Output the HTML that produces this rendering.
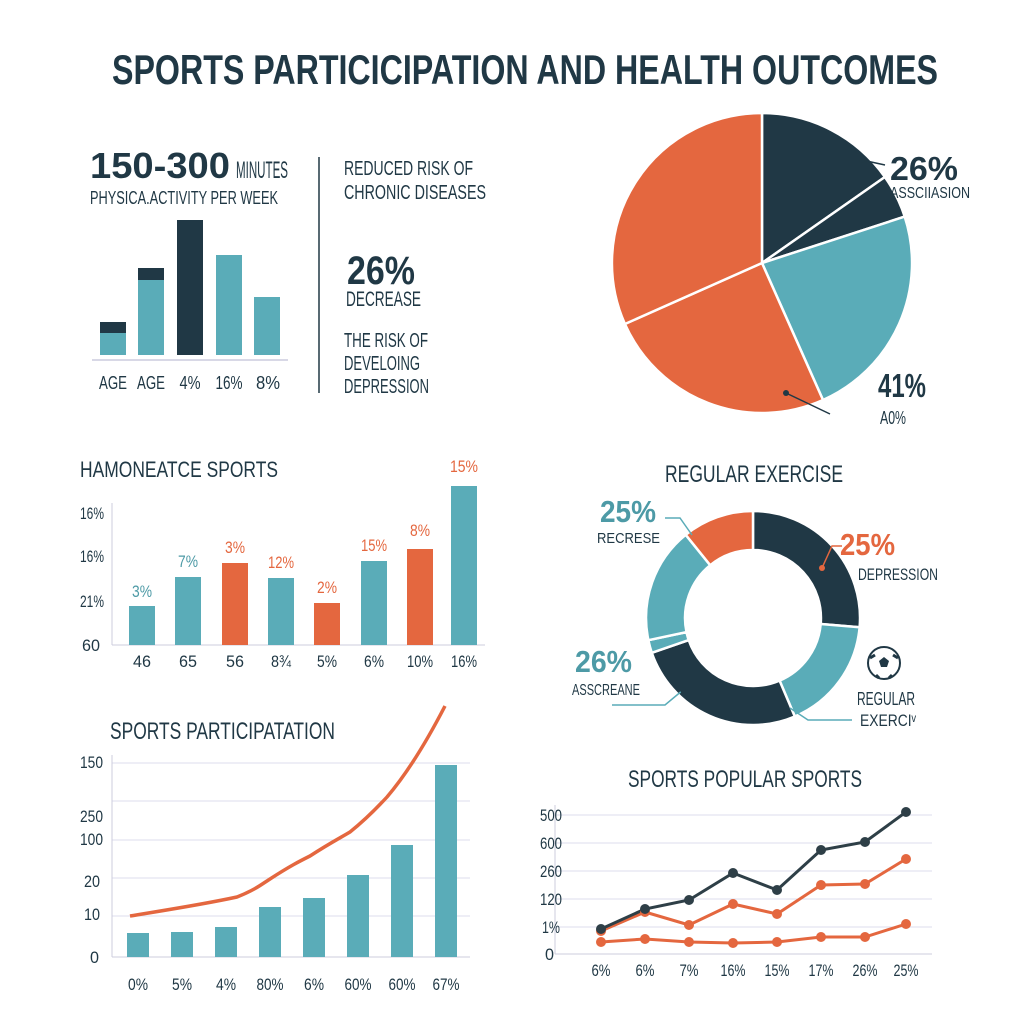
<!DOCTYPE html><html><head><style>body{margin:0;background:#fff}svg{display:block}text{font-family:"Liberation Sans Narrow","Liberation Sans",sans-serif;fill:#203845}</style></head><body>
<svg width="1024" height="1024" viewBox="0 0 1024 1024" xmlns="http://www.w3.org/2000/svg">
<rect width="1024" height="1024" fill="#fff"/>
<text x="525" y="84" font-size="42" font-weight="bold" text-anchor="middle" textLength="826" lengthAdjust="spacingAndGlyphs">SPORTS PARTICICIPATION AND HEALTH OUTCOMES</text>
<!-- top left -->
<text x="90" y="178" font-size="36" font-weight="bold" textLength="140" lengthAdjust="spacingAndGlyphs">150-300</text>
<text x="236" y="178" font-size="24" textLength="52" lengthAdjust="spacingAndGlyphs">MINUTES</text>
<text x="90" y="204" font-size="18" textLength="188" lengthAdjust="spacingAndGlyphs">PHYSICA.ACTIVITY PER WEEK</text>
<g fill="#5aacb8"><rect x="100" y="333" width="26" height="22"/><rect x="138" y="280" width="26" height="75"/><rect x="216" y="255" width="26" height="100"/><rect x="254" y="297" width="26" height="58"/></g>
<g fill="#203845"><rect x="100" y="322" width="26" height="11"/><rect x="138" y="268" width="26" height="12"/><rect x="177" y="220" width="26" height="135"/></g>
<line x1="92" y1="360" x2="288" y2="360" stroke="#ccd" stroke-width="1.5"/>
<g font-size="18" text-anchor="middle" lengthAdjust="spacingAndGlyphs"><text x="113" y="389" textLength="28" lengthAdjust="spacingAndGlyphs">AGE</text><text x="151" y="389" textLength="28" lengthAdjust="spacingAndGlyphs">AGE</text><text x="190" y="389" textLength="21" lengthAdjust="spacingAndGlyphs">4%</text><text x="229" y="389" textLength="27" lengthAdjust="spacingAndGlyphs">16%</text><text x="268" y="389" textLength="24" lengthAdjust="spacingAndGlyphs">8%</text></g>
<line x1="319" y1="157" x2="319" y2="393" stroke="#203845" stroke-width="1.5"/>
<g font-size="20"><text x="344" y="175" textLength="129" lengthAdjust="spacingAndGlyphs">REDUCED RISK OF</text><text x="344" y="199" textLength="142" lengthAdjust="spacingAndGlyphs">CHRONIC DISEASES</text></g>
<text x="347" y="284" font-size="40" font-weight="bold" textLength="68" lengthAdjust="spacingAndGlyphs">26%</text>
<text x="346" y="306" font-size="21" textLength="75" lengthAdjust="spacingAndGlyphs">DECREASE</text>
<g font-size="20"><text x="344" y="347" textLength="84" lengthAdjust="spacingAndGlyphs">THE RISK OF</text><text x="344" y="370" textLength="76" lengthAdjust="spacingAndGlyphs">DEVELOING</text><text x="344" y="393" textLength="85" lengthAdjust="spacingAndGlyphs">DEPRESSION</text></g>
<!-- pie -->
<g stroke="#fff" stroke-width="2.5">
<path d="M762,263 L762,113 A150,150 0 0 1 884.9,177 Z" fill="#203845"/>
<path d="M762,263 L884.9,177 A150,150 0 0 1 904.7,216.6 Z" fill="#203845"/>
<path d="M762,263 L904.7,216.6 A150,150 0 0 1 823,400 Z" fill="#5aacb8"/>
<path d="M762,263 L823,400 A150,150 0 0 1 624.9,324 Z" fill="#e4673f"/>
<path d="M762,263 L624.9,324 A150,150 0 0 1 762,113 Z" fill="#e4673f"/>
</g>
<line x1="862" y1="160" x2="885" y2="165" stroke="#203845" stroke-width="1.5"/><circle cx="862" cy="160" r="3" fill="#203845"/>
<text x="890" y="180" font-size="33" font-weight="bold" textLength="68" lengthAdjust="spacingAndGlyphs">26%</text>
<text x="890" y="179" font-size="16" dy="19" textLength="80" lengthAdjust="spacingAndGlyphs">ASSCIIASION</text>
<line x1="786" y1="393" x2="830" y2="414" stroke="#203845" stroke-width="1.5"/><circle cx="786" cy="393" r="3" fill="#203845"/>
<text x="878" y="397" font-size="33" font-weight="bold" textLength="48" lengthAdjust="spacingAndGlyphs">41%</text>
<text x="880" y="424" font-size="18" textLength="26" lengthAdjust="spacingAndGlyphs">A0%</text>
<!-- middle left -->
<text x="80" y="477" font-size="22" textLength="198" lengthAdjust="spacingAndGlyphs">HAMONEATCE SPORTS</text>
<g font-size="17"><text x="80" y="519" textLength="24" lengthAdjust="spacingAndGlyphs">16%</text><text x="80" y="562" textLength="24" lengthAdjust="spacingAndGlyphs">16%</text><text x="80" y="607" textLength="24" lengthAdjust="spacingAndGlyphs">21%</text><text x="82" y="651" textLength="18" lengthAdjust="spacingAndGlyphs">60</text></g>
<line x1="112" y1="503" x2="112" y2="645" stroke="#ccd"/><line x1="112" y1="645" x2="485" y2="645" stroke="#ccd"/>
<g fill="#5aacb8"><rect x="129" y="606" width="26" height="39"/><rect x="175" y="577" width="26" height="68"/><rect x="268" y="578" width="26" height="67"/><rect x="361" y="561" width="26" height="84"/><rect x="451" y="486" width="26" height="159"/></g>
<g fill="#e4673f"><rect x="222" y="563" width="26" height="82"/><rect x="314" y="603" width="26" height="42"/><rect x="407" y="549" width="26" height="96"/></g>
<g font-size="17" text-anchor="middle"><text x="142" y="597" style="fill:#4d9aa6" textLength="20" lengthAdjust="spacingAndGlyphs">3%</text><text x="188" y="567" style="fill:#4d9aa6" textLength="20" lengthAdjust="spacingAndGlyphs">7%</text><text x="235" y="553" style="fill:#e4673f" textLength="20" lengthAdjust="spacingAndGlyphs">3%</text><text x="281" y="568" style="fill:#e4673f" textLength="26" lengthAdjust="spacingAndGlyphs">12%</text><text x="327" y="593" style="fill:#e4673f" textLength="20" lengthAdjust="spacingAndGlyphs">2%</text><text x="374" y="551" style="fill:#e4673f" textLength="26" lengthAdjust="spacingAndGlyphs">15%</text><text x="420" y="536" style="fill:#e4673f" textLength="20" lengthAdjust="spacingAndGlyphs">8%</text><text x="464" y="472" style="fill:#e4673f" textLength="28" lengthAdjust="spacingAndGlyphs">15%</text></g>
<g font-size="17" text-anchor="middle"><text x="142" y="667" textLength="18" lengthAdjust="spacingAndGlyphs">46</text><text x="188" y="667" textLength="18" lengthAdjust="spacingAndGlyphs">65</text><text x="235" y="667" textLength="18" lengthAdjust="spacingAndGlyphs">56</text><text x="281" y="667" textLength="20" lengthAdjust="spacingAndGlyphs">8¾</text><text x="327" y="667" textLength="20" lengthAdjust="spacingAndGlyphs">5%</text><text x="374" y="667" textLength="20" lengthAdjust="spacingAndGlyphs">6%</text><text x="420" y="667" textLength="26" lengthAdjust="spacingAndGlyphs">10%</text><text x="464" y="667" textLength="26" lengthAdjust="spacingAndGlyphs">16%</text></g>
<!-- donut -->
<text x="754" y="482" font-size="24" text-anchor="middle" textLength="178" lengthAdjust="spacingAndGlyphs">REGULAR EXERCISE</text>
<g stroke="#fff" stroke-width="2.5">
<path d="M753,511 A107,107 0 0 1 859.6,627.3 L820.7,624 A68,68 0 0 0 753,550 Z" fill="#203845"/>
<path d="M859.6,627.3 A107,107 0 0 1 794.8,716.5 L779.6,680.6 A68,68 0 0 0 820.7,624 Z" fill="#5aacb8"/>
<path d="M794.8,716.5 A107,107 0 0 1 651.8,652.8 L688.7,640.1 A68,68 0 0 0 779.6,680.6 Z" fill="#203845"/>
<path d="M651.8,652.8 A107,107 0 0 1 648.4,640.2 L686.5,632.1 A68,68 0 0 0 688.7,640.1 Z" fill="#5aacb8"/>
<path d="M648.4,640.2 A107,107 0 0 1 685.7,534.8 L710.2,565.2 A68,68 0 0 0 686.5,632.1 Z" fill="#5aacb8"/>
<path d="M685.7,534.8 A107,107 0 0 1 753,511 L753,550 A68,68 0 0 0 710.2,565.2 Z" fill="#e4673f"/>
</g>
<text x="600" y="522" font-size="31" font-weight="bold" style="fill:#4d9aa6" textLength="56" lengthAdjust="spacingAndGlyphs">25%</text>
<text x="597" y="543" font-size="15" textLength="63" lengthAdjust="spacingAndGlyphs">RECRESE</text>
<polyline points="665,518 680,518 692,535" fill="none" stroke="#5aacb8" stroke-width="1.5"/>
<text x="840" y="555" font-size="31" font-weight="bold" style="fill:#e4673f" textLength="55" lengthAdjust="spacingAndGlyphs">25%</text>
<text x="858" y="580" font-size="17" textLength="80" lengthAdjust="spacingAndGlyphs">DEPRESSION</text>
<polyline points="822,568 832,546 842,546" fill="none" stroke="#e4673f" stroke-width="1.5"/><circle cx="822" cy="568" r="3" fill="#e4673f"/>
<text x="575" y="672" font-size="31" font-weight="bold" style="fill:#4d9aa6" textLength="57" lengthAdjust="spacingAndGlyphs">26%</text>
<text x="572" y="695" font-size="16" textLength="68" lengthAdjust="spacingAndGlyphs">ASSCREANE</text>
<polyline points="612,705 665,705 683,690" fill="none" stroke="#5aacb8" stroke-width="1.5"/><circle cx="683" cy="690" r="3" fill="#203845"/>
<text x="857" y="705" font-size="18" textLength="58" lengthAdjust="spacingAndGlyphs">REGULAR</text>
<text x="860" y="726" font-size="17" textLength="56" lengthAdjust="spacingAndGlyphs">EXERCI&#x1D5B;</text>
<polyline points="790,708 808,720 852,720" fill="none" stroke="#5aacb8" stroke-width="1.5"/>
<circle cx="884" cy="663" r="16" fill="#fff" stroke="#203845" stroke-width="2"/>
<polygon points="884,657 889,661 887,667 881,667 879,661" fill="#203845"/>
<path d="M870,658 l5,-3 M898,658 l-5,-3 M876,675 l3,3 M892,675 l-3,3" stroke="#203845" stroke-width="3"/>
<!-- bottom left -->
<text x="110" y="739" font-size="24" textLength="225" lengthAdjust="spacingAndGlyphs">SPORTS PARTICIPATATION</text>
<g stroke="#dde" stroke-width="1"><line x1="112" y1="763" x2="470" y2="763"/><line x1="112" y1="801" x2="470" y2="801"/><line x1="112" y1="840" x2="470" y2="840"/><line x1="112" y1="878" x2="470" y2="878"/><line x1="112" y1="916" x2="470" y2="916"/></g>
<line x1="112" y1="755" x2="112" y2="957" stroke="#ccd"/><line x1="112" y1="957" x2="470" y2="957" stroke="#ccd"/>
<g font-size="17"><text x="80" y="768" textLength="23" lengthAdjust="spacingAndGlyphs">150</text><text x="80" y="822" textLength="23" lengthAdjust="spacingAndGlyphs">250</text><text x="80" y="845" textLength="23" lengthAdjust="spacingAndGlyphs">100</text><text x="84" y="887" textLength="16" lengthAdjust="spacingAndGlyphs">20</text><text x="84" y="920" textLength="16" lengthAdjust="spacingAndGlyphs">10</text><text x="90" y="963" textLength="9" lengthAdjust="spacingAndGlyphs">0</text></g>
<g fill="#5aacb8"><rect x="127" y="933" width="22" height="24"/><rect x="171" y="932" width="22" height="25"/><rect x="215" y="927" width="22" height="30"/><rect x="259" y="907" width="22" height="50"/><rect x="303" y="898" width="22" height="59"/><rect x="347" y="875" width="22" height="82"/><rect x="391" y="845" width="22" height="112"/><rect x="435" y="765" width="22" height="192"/></g>
<path d="M130,916 C160,911 200,905 237,897 C255,890 262,884 270,879 C290,866 300,861 310,856 C330,843 340,838 350,832 C365,820 375,810 387,797 C410,770 430,735 445,706" fill="none" stroke="#e4673f" stroke-width="3.5"/>
<g font-size="17" text-anchor="middle"><text x="138" y="990" textLength="20" lengthAdjust="spacingAndGlyphs">0%</text><text x="182" y="990" textLength="20" lengthAdjust="spacingAndGlyphs">5%</text><text x="226" y="990" textLength="20" lengthAdjust="spacingAndGlyphs">4%</text><text x="270" y="990" textLength="27" lengthAdjust="spacingAndGlyphs">80%</text><text x="314" y="990" textLength="20" lengthAdjust="spacingAndGlyphs">6%</text><text x="358" y="990" textLength="27" lengthAdjust="spacingAndGlyphs">60%</text><text x="402" y="990" textLength="27" lengthAdjust="spacingAndGlyphs">60%</text><text x="446" y="990" textLength="27" lengthAdjust="spacingAndGlyphs">67%</text></g>
<!-- bottom right -->
<text x="745" y="787" font-size="24" text-anchor="middle" textLength="234" lengthAdjust="spacingAndGlyphs">SPORTS POPULAR SPORTS</text>
<g stroke="#dde"><line x1="555" y1="815" x2="932" y2="815"/><line x1="555" y1="843" x2="932" y2="843"/><line x1="555" y1="871" x2="932" y2="871"/><line x1="555" y1="899" x2="932" y2="899"/><line x1="555" y1="927" x2="932" y2="927"/></g>
<line x1="555" y1="805" x2="555" y2="954" stroke="#ccd"/><line x1="555" y1="954" x2="932" y2="954" stroke="#ccd"/>
<g font-size="17"><text x="540" y="821" textLength="22" lengthAdjust="spacingAndGlyphs">500</text><text x="540" y="849" textLength="22" lengthAdjust="spacingAndGlyphs">600</text><text x="540" y="877" textLength="22" lengthAdjust="spacingAndGlyphs">260</text><text x="540" y="905" textLength="22" lengthAdjust="spacingAndGlyphs">120</text><text x="542" y="933" textLength="18" lengthAdjust="spacingAndGlyphs">1%</text><text x="545" y="960" textLength="9" lengthAdjust="spacingAndGlyphs">0</text></g>
<g fill="none" stroke-width="3"><polyline points="601,942 645,939 689,942 733,943 777,942 821,937 865,937 906,924" stroke="#e4673f"/><polyline points="601,931 645,912 689,925 733,904 777,914 821,885 865,884 906,859" stroke="#e4673f"/><polyline points="601,929 645,909 689,900 733,873 777,890 821,850 865,842 906,812" stroke="#2e3f47"/></g>
<g fill="#e4673f"><circle cx="601" cy="942" r="5"/><circle cx="645" cy="939" r="5"/><circle cx="689" cy="942" r="5"/><circle cx="733" cy="943" r="5"/><circle cx="777" cy="942" r="5"/><circle cx="821" cy="937" r="5"/><circle cx="865" cy="937" r="5"/><circle cx="906" cy="924" r="5"/><circle cx="601" cy="931" r="5"/><circle cx="645" cy="912" r="5"/><circle cx="689" cy="925" r="5"/><circle cx="733" cy="904" r="5"/><circle cx="777" cy="914" r="5"/><circle cx="821" cy="885" r="5"/><circle cx="865" cy="884" r="5"/><circle cx="906" cy="859" r="5"/></g>
<g fill="#2e3f47"><circle cx="601" cy="929" r="5"/><circle cx="645" cy="909" r="5"/><circle cx="689" cy="900" r="5"/><circle cx="733" cy="873" r="5"/><circle cx="777" cy="890" r="5"/><circle cx="821" cy="850" r="5"/><circle cx="865" cy="842" r="5"/><circle cx="906" cy="812" r="5"/></g>
<g font-size="17" text-anchor="middle"><text x="601" y="976" textLength="19" lengthAdjust="spacingAndGlyphs">6%</text><text x="645" y="976" textLength="19" lengthAdjust="spacingAndGlyphs">6%</text><text x="689" y="976" textLength="19" lengthAdjust="spacingAndGlyphs">7%</text><text x="733" y="976" textLength="25" lengthAdjust="spacingAndGlyphs">16%</text><text x="777" y="976" textLength="25" lengthAdjust="spacingAndGlyphs">15%</text><text x="821" y="976" textLength="25" lengthAdjust="spacingAndGlyphs">17%</text><text x="865" y="976" textLength="25" lengthAdjust="spacingAndGlyphs">26%</text><text x="906" y="976" textLength="25" lengthAdjust="spacingAndGlyphs">25%</text></g>
</svg></body></html>
